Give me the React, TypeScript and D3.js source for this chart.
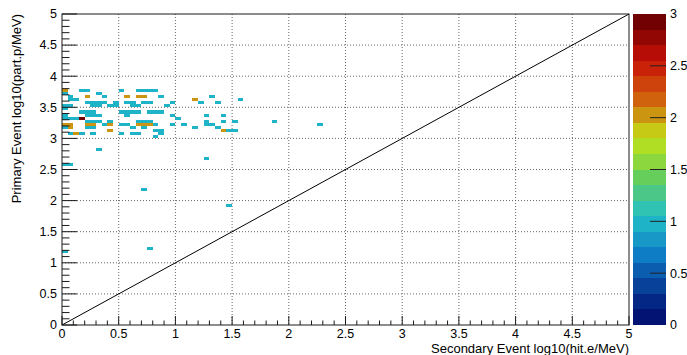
import React from 'react';
import * as d3 from 'd3';

// Canvas
const WIDTH = 687;
const HEIGHT = 355;

// Histogram definition (TH2 style): 100 x 100 bins over [0,5] x [0,5]
const X_MIN = 0;
const X_MAX = 5;
const Y_MIN = 0;
const Y_MAX = 5;
const N_BINS_X = 100;
const N_BINS_Y = 100;

// Colour axis
const Z_MIN = 0;
const Z_MAX = 3;
const N_CONTOURS = 20;

// Filled bins: bin index along x, bin index along y, entries
const cellBinX = [
  0, 3, 4, 6, 10, 13, 14, 15, 16,
  0, 1, 4, 7, 11, 13, 14, 17,
  1, 2, 4, 5, 6, 7, 9, 11, 12, 14, 15,
  0, 1, 5, 6, 8, 9, 12, 13, 18,
  0, 3, 4, 5, 10, 11, 12, 13, 15, 16, 17,
  0, 4, 5, 6, 11,
  0, 1, 2, 3, 4, 5, 6, 8, 13, 14, 15,
  0, 1, 4, 5, 7, 8, 10, 11, 13, 14, 15, 16,
  0, 1, 4, 5, 8, 12, 14, 16, 17,
  1, 2, 3, 5, 10, 12, 13, 16, 17,
  23, 26, 31, 19, 24, 27, 19, 20, 25, 28, 25, 28, 30, 37, 19, 21, 25, 26, 45, 23, 27, 28, 29, 30,
  6, 0, 1, 25, 14, 29, 15, 0,
];
const cellBinY = [
  75, 75, 75, 74, 75, 75, 75, 75, 75,
  74, 73, 73, 73, 73, 73, 73, 73,
  72, 72, 71, 71, 71, 71, 71, 71, 71, 71, 71,
  70, 70, 70, 70, 70, 70, 70, 70, 70,
  69, 68, 68, 68, 68, 68, 68, 68, 68, 68, 68,
  67, 67, 67, 67, 67,
  66, 66, 66, 66, 65, 65, 65, 65, 65, 65, 65,
  64, 64, 64, 64, 64, 64, 64, 64, 64, 64, 64, 64,
  63, 63, 63, 63, 62, 63, 63, 62, 62,
  61, 61, 61, 61, 61, 61, 61, 60, 61,
  72, 73, 72, 71, 71, 71, 67, 66, 67, 67, 65, 65, 65, 65, 64, 64, 64, 64, 64, 63, 63, 62, 62, 62,
  56, 51, 51, 53, 43, 38, 24, 23,
];
const cellCount = [
  2, 1, 1, 1, 1, 1, 1, 1, 1,
  1, 1, 2, 1, 2, 2, 2, 1,
  1, 1, 1, 1, 1, 1, 1, 1, 1, 1, 1,
  1, 1, 1, 1, 1, 1, 1, 1, 1,
  1, 1, 1, 1, 1, 1, 1, 1, 1, 1, 1,
  1, 1, 1, 1, 1,
  1, 1, 1, 3, 1, 1, 1, 1, 1, 1, 1,
  2, 2, 2, 2, 1, 2, 1, 1, 2, 2, 2, 1,
  1, 2, 1, 1, 2, 1, 1, 1, 1,
  1, 2, 1, 1, 1, 1, 1, 1, 1,
  2, 1, 1, 1, 1, 1, 1, 1, 1, 1, 1, 1, 1, 1, 1, 1, 1, 1, 1, 1, 1, 2, 1, 1,
  1, 1, 1, 1, 1, 1, 1, 1,
];

// Axis ticks and labels
const xMajorTicks = [0, 0.5, 1, 1.5, 2, 2.5, 3, 3.5, 4, 4.5, 5];
const yMajorTicks = [0, 0.5, 1, 1.5, 2, 2.5, 3, 3.5, 4, 4.5, 5];
const zMajorTicks = [0, 0.5, 1, 1.5, 2, 2.5, 3];
const MINOR_STEP = 0.1;

const X_TITLE = 'Secondary Event log10(hit.e/MeV)';
const Y_TITLE = 'Primary Event log10(part.p/MeV)';

// Rainbow palette (gradient stops)
const paletteStops = [0.0, 0.125, 0.25, 0.375, 0.5, 0.625, 0.75, 0.875, 1.0];
const paletteRed = [0, 5, 15, 35, 102, 196, 208, 199, 110];
const paletteGreen = [0, 48, 124, 192, 206, 226, 97, 16, 0];
const paletteBlue = [99, 142, 198, 201, 90, 22, 13, 8, 2];
const N_PALETTE_COLORS = 255;

// Layout
const FRAME = { left: 62, right: 629, top: 14, bottom: 325 };
const PALETTE = { left: 633, right: 666 };
const FONT = '"Liberation Sans", Arial, Helvetica, sans-serif';

function buildGradientTable(): string[] {
  const table: string[] = [];
  for (let g = 1; g < paletteStops.length; g++) {
    const n =
      Math.floor(paletteStops[g] * N_PALETTE_COLORS) -
      Math.floor(paletteStops[g - 1] * N_PALETTE_COLORS);
    const interp = d3.interpolateRgb(
      d3.rgb(paletteRed[g - 1], paletteGreen[g - 1], paletteBlue[g - 1]),
      d3.rgb(paletteRed[g], paletteGreen[g], paletteBlue[g])
    );
    for (let c = 0; c < n; c++) table.push(interp(c / n));
  }
  return table;
}

const gradient = buildGradientTable();

function levelColor(level: number): string {
  const idx = Math.floor(((level + 0.99) * gradient.length) / N_CONTOURS);
  return gradient[Math.min(gradient.length - 1, idx)];
}

function valueLevel(z: number): number {
  const lvl = Math.floor(0.01 + ((z - Z_MIN) * N_CONTOURS) / (Z_MAX - Z_MIN));
  return Math.max(0, Math.min(N_CONTOURS - 1, lvl));
}

function minorTicks(lo: number, hi: number): number[] {
  const out: number[] = [];
  const n = Math.round((hi - lo) / MINOR_STEP);
  for (let i = 0; i <= n; i++) out.push(lo + i * MINOR_STEP);
  return out;
}

export default function App() {
  const x = d3.scaleLinear().domain([X_MIN, X_MAX]).range([FRAME.left, FRAME.right]);
  const y = d3.scaleLinear().domain([Y_MIN, Y_MAX]).range([FRAME.bottom, FRAME.top]);
  const z = d3.scaleLinear().domain([Z_MIN, Z_MAX]).range([FRAME.bottom, FRAME.top]);

  const binW = (X_MAX - X_MIN) / N_BINS_X;
  const binH = (Y_MAX - Y_MIN) / N_BINS_Y;

  const cells = cellBinX.map((bx, i) => ({
    x0: X_MIN + bx * binW,
    y0: Y_MIN + cellBinY[i] * binH,
    n: cellCount[i],
  }));

  const contourStep = (Z_MAX - Z_MIN) / N_CONTOURS;
  const bands = d3.range(N_CONTOURS).map((i) => ({
    z0: Z_MIN + i * contourStep,
    z1: Z_MIN + (i + 1) * contourStep,
    color: levelColor(i),
  }));

  const fmt = (v: number) => d3.format('~g')(v);
  const xMinor = minorTicks(X_MIN, X_MAX);
  const yMinor = minorTicks(Y_MIN, Y_MAX);

  const axisColor = '#1a1a1a';
  const gridColor = '#666';

  return (
    <svg
      width={WIDTH}
      height={HEIGHT}
      style={{ position: 'absolute', left: 0, top: 0, background: '#fff' }}
      fontFamily={FONT}
    >
      <rect x={0} y={0} width={WIDTH} height={HEIGHT} fill="#fff" />

      {/* grid */}
      <g stroke={gridColor} strokeWidth={1} strokeDasharray="1 2">
        {xMajorTicks.slice(1, -1).map((t) => (
          <line key={'gx' + t} x1={x(t)} x2={x(t)} y1={FRAME.top} y2={FRAME.bottom} />
        ))}
        {yMajorTicks.slice(1, -1).map((t) => (
          <line key={'gy' + t} x1={FRAME.left} x2={FRAME.right} y1={y(t)} y2={y(t)} />
        ))}
      </g>

      {/* filled bins */}
      <g shapeRendering="crispEdges">
        {cells.map((c, i) => (
          <rect
            key={i}
            x={x(c.x0)}
            y={y(c.y0 + binH)}
            width={x(c.x0 + binW) - x(c.x0)}
            height={y(c.y0) - y(c.y0 + binH)}
            fill={levelColor(valueLevel(c.n))}
          />
        ))}
      </g>

      {/* diagonal y = x */}
      <line
        x1={x(Math.max(X_MIN, Y_MIN))}
        y1={y(Math.max(X_MIN, Y_MIN))}
        x2={x(Math.min(X_MAX, Y_MAX))}
        y2={y(Math.min(X_MAX, Y_MAX))}
        stroke="#000"
        strokeWidth={1}
      />

      {/* frame */}
      <rect
        x={FRAME.left}
        y={FRAME.top}
        width={FRAME.right - FRAME.left}
        height={FRAME.bottom - FRAME.top}
        fill="none"
        stroke={axisColor}
        strokeWidth={1}
      />

      {/* axis ticks */}
      <g stroke={axisColor} strokeWidth={1}>
        {xMinor.map((t, i) => {
          const major = i % 5 === 0;
          return (
            <line
              key={'xt' + i}
              x1={x(t)}
              x2={x(t)}
              y1={FRAME.bottom}
              y2={FRAME.bottom - (major ? 9 : 4.5)}
            />
          );
        })}
        {yMinor.map((t, i) => {
          const major = i % 5 === 0;
          return (
            <line
              key={'yt' + i}
              x1={FRAME.left}
              x2={FRAME.left + (major ? 15 : 7.5)}
              y1={y(t)}
              y2={y(t)}
            />
          );
        })}
      </g>

      {/* tick labels */}
      <g fontSize={12.5} fill="#000">
        {xMajorTicks.map((t) => (
          <text key={'xl' + t} x={x(t)} y={338} textAnchor="middle">
            {fmt(t)}
          </text>
        ))}
        {yMajorTicks.map((t) => (
          <text key={'yl' + t} x={57} y={y(t)} dy="0.35em" textAnchor="end">
            {fmt(t)}
          </text>
        ))}
      </g>

      {/* axis titles */}
      <text x={FRAME.right} y={353} fontSize={13} textAnchor="end" fill="#000">
        {X_TITLE}
      </text>
      <text
        transform={`translate(21,${FRAME.top}) rotate(-90)`}
        fontSize={13}
        textAnchor="end"
        fill="#000"
      >
        {Y_TITLE}
      </text>

      {/* colour palette */}
      <g shapeRendering="crispEdges">
        {bands.map((b, i) => (
          <rect
            key={'pb' + i}
            x={PALETTE.left}
            y={z(b.z1)}
            width={PALETTE.right - PALETTE.left}
            height={z(b.z0) - z(b.z1)}
            fill={b.color}
          />
        ))}
      </g>
      <g stroke="#222" strokeWidth={1}>
        {zMajorTicks.slice(1, -1).map((t) => (
          <line key={'zt' + t} x1={PALETTE.right - 16} x2={PALETTE.right} y1={z(t)} y2={z(t)} />
        ))}
      </g>
      <g fontSize={12.5} fill="#000">
        {zMajorTicks.map((t) => (
          <text key={'zl' + t} x={PALETTE.right + 4} y={z(t)} dy="0.35em" textAnchor="start">
            {fmt(t)}
          </text>
        ))}
      </g>
    </svg>
  );
}
